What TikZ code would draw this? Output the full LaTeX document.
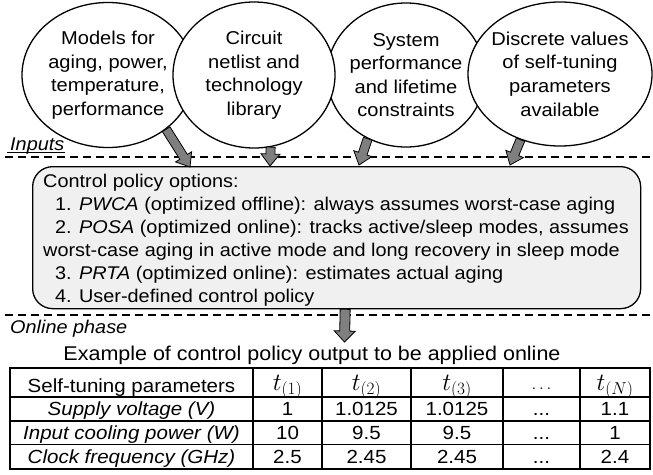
\documentclass[tikz,border=0pt]{standalone}
\usepackage{fontspec}
\setmainfont{Liberation Sans}[FakeStretch=1.08]
\usetikzlibrary{calc,shapes.geometric}
\definecolor{arrowgray}{HTML}{7F7F7F}
\definecolor{boxgray}{HTML}{F0F0F0}
\newcommand\myblockarrow[5]{%
  \path ($(#2)!#5!(#1)$) coordinate (ban);
  \filldraw[arrowfill] ($(#1)!#3!90:(#2)$) -- ($(ban)!#3!90:(#2)$) -- ($(ban)!#4!90:(#2)$) -- (#2)
    -- ($(ban)!#4!-90:(#2)$) -- ($(ban)!#3!-90:(#2)$) -- ($(#1)!#3!-90:(#2)$) -- cycle;
}
\begin{document}
\begin{tikzpicture}[x=1pt,y=-1pt,
  ell/.style={ellipse, draw, line width=1.3pt, fill=white, inner sep=0pt},
  elltext/.style={align=center, inner sep=0pt, font=\fontsize{18.6}{23.6}\selectfont},
  arrowfill/.style={fill=arrowgray, draw=black, line width=0.8pt, line join=miter},
  phaseline/.style={line width=1.3pt, dash pattern=on 8pt off 5pt},
  cell/.style={anchor=base, inner sep=0pt, font=\fontsize{19}{22}\selectfont},
  mcell/.style={anchor=base, inner sep=0pt, font=\fontsize{24}{26}\selectfont},
  gridline/.style={line width=1.4pt},
  phaselabel/.style={anchor=base west, inner sep=0pt, font=\fontsize{18.4}{22}\selectfont\itshape}
]
\useasboundingbox (0,0) rectangle (653,474);

% input ellipses
\node[ell, minimum width=172pt, minimum height=145pt,
  label={[elltext]center:Models for\\aging, power,\\temperature,\\performance}] (e1) at (108,75) {};
\node[ell, minimum width=158pt, minimum height=144pt,
  label={[elltext]center:System\\performance\\and lifetime\\constraints}] (e3) at (406,75) {};
\node[ell, minimum width=162pt, minimum height=146pt,
  label={[elltext]center:Circuit\\netlist and\\technology\\library}] (e2) at (254,75) {};
\node[ell, minimum width=184pt, minimum height=144pt,
  label={[elltext]center:Discrete values\\of self-tuning\\parameters\\available}] (e4) at (560,74) {};

% phase separators
\draw[phaseline] (5,157) -- (653,157);
\draw[phaseline] (5,315) -- (653,315);
\node[phaselabel] (inp) at (10,150) {Inputs};
\draw[line width=1pt] ([yshift=-2.5pt,xshift=-3pt]inp.base west) -- ([yshift=-2.5pt]inp.base east);
\node[phaselabel] (onl) at (10,333) {Online phase};

% control policy box
\node[draw, line width=1.3pt, fill=boxgray, rounded corners=20pt, minimum width=608pt,
  minimum height=142pt, anchor=north west, inner sep=0pt] (box) at (32,166) {};
\node[anchor=base west, align=left, inner sep=0pt, font=\fontsize{18.4}{23}\selectfont] (opts) at (43,302)
{Control policy options:\\
\hspace*{12pt}1. \textit{PWCA} (optimized offline): always assumes worst-case aging\\
\hspace*{12pt}2. \textit{POSA} (optimized online): tracks active/sleep modes, assumes\\
worst-case aging in active mode and long recovery in sleep mode\\
\hspace*{12pt}3. \textit{PRTA} (optimized online): estimates actual aging\\
\hspace*{12pt}4. User-defined control policy};

% arrows
\coordinate (p1) at (190,167);
\coordinate (p2) at (270,166);
\coordinate (p3) at (359,165);
\coordinate (p4) at (510,165);
\myblockarrow{e1.-43}{p1}{4.5pt}{9.5pt}{12pt}
\myblockarrow{e2.-77}{p2}{4.5pt}{9.5pt}{12pt}
\myblockarrow{e3.-121}{p3}{4.5pt}{9.5pt}{12pt}
\myblockarrow{e4.-121}{p4}{4.5pt}{9.5pt}{12pt}
\coordinate (s5) at ($(box.south)+(8.5,0)$);
\coordinate (p5) at (344.5,342);
\myblockarrow{s5}{p5}{5pt}{10.5pt}{11pt}

% table
\node[anchor=base, inner sep=0pt, font=\fontsize{19.9}{22}\selectfont] (ttl) at (312,360)
  {Example of control policy output to be applied online};
\draw[line width=1.6pt] (10,368) rectangle (650,469);
\foreach \x in {253,322,411,503,580} \draw[gridline] (\x,368) -- (\x,469);
\foreach \y in {397,421,444.5} \draw[gridline] (10,\y) -- (650,\y);

\node[cell] (h0) at (131.5,392) {Self-tuning parameters};
\node[mcell] (h1) at (287.5,390) {$t_{(1)}$};
\node[mcell] (h2) at (366.5,390) {$t_{(2)}$};
\node[mcell] (h3) at (457,390) {$t_{(3)}$};
\node[cell] (h4) at (541.5,389) {$\ldots$};
\node[mcell] (h5) at (615,390) {$t_{(N)}$};

\node[cell] (a0) at (131.5,415) {\textit{Supply voltage (V)}};
\node[cell] (a1) at (287.5,415) {1};
\node[cell] (a2) at (366.5,415) {1.0125};
\node[cell] (a3) at (457,415) {1.0125};
\node[cell] (a4) at (541.5,415) {...};
\node[cell] (a5) at (615,415) {1.1};

\node[cell] (b0) at (131.5,439) {\textit{Input cooling power (W)}};
\node[cell] (b1) at (287.5,439) {10};
\node[cell] (b2) at (366.5,439) {9.5};
\node[cell] (b3) at (457,439) {9.5};
\node[cell] (b4) at (541.5,439) {...};
\node[cell] (b5) at (615,439) {1};

\node[cell] (c0) at (131.5,463) {\textit{Clock frequency (GHz)}};
\node[cell] (c1) at (287.5,463) {2.5};
\node[cell] (c2) at (366.5,463) {2.45};
\node[cell] (c3) at (457,463) {2.45};
\node[cell] (c4) at (541.5,463) {...};
\node[cell] (c5) at (615,463) {2.4};
\end{tikzpicture}
\end{document}
